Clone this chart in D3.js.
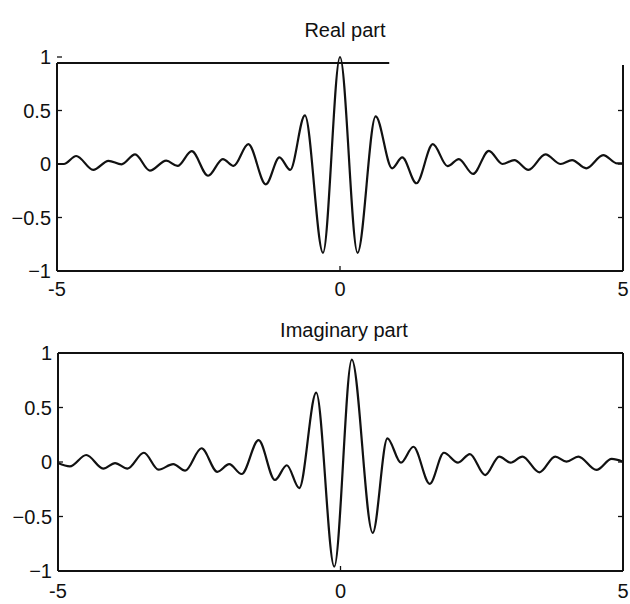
<!DOCTYPE html>
<html>
<head>
<meta charset="utf-8">
<script src="https://cdn.jsdelivr.net/npm/d3@7/dist/d3.min.js"></script>
<style>
  html, body { margin: 0; padding: 0; background: #fff; }
  svg { display: block; }
  text { font-family: "Liberation Sans", Arial, sans-serif; font-size: 20px; fill: #111; }
</style>
</head>
<body>
<svg id="chart" width="630" height="604"></svg>
<script>
// Real part: local extrema of the wavelet, read along t in [-5, 5]
const realT = [-5, -4.88, -4.66, -4.36, -4.09, -3.86, -3.62, -3.36, -3.07, -2.87, -2.62, -2.33, -2.07, -1.88,
  -1.62, -1.31, -1.07, -0.88, -0.62, -0.30, 0, 0.31, 0.63, 0.92, 1.10, 1.35, 1.64, 1.90, 2.10, 2.35,
  2.63, 2.87, 3.08, 3.33, 3.63, 3.90, 4.10, 4.35, 4.65, 4.90, 5];
const realV = [0, 0, 0.075, -0.055, 0.03, -0.003, 0.09, -0.062, 0.031, -0.018, 0.12, -0.11, 0.046, -0.018,
  0.185, -0.19, 0.062, -0.055, 0.455, -0.83, 1.0, -0.83, 0.445, -0.04, 0.062, -0.18, 0.185, -0.02, 0.046, -0.093,
  0.123, 0, 0.037, -0.055, 0.09, 0, 0.037, -0.04, 0.083, 0.005, 0.005];

// Imaginary part: local extrema of the wavelet
const imagT = [-5, -4.79, -4.50, -4.20, -3.99, -3.77, -3.48, -3.22, -2.96, -2.75, -2.46, -2.18, -1.97, -1.75,
  -1.45, -1.16, -0.95, -0.73, -0.43, -0.11, 0.20, 0.57, 0.83, 1.07, 1.29, 1.58, 1.83, 2.08, 2.29, 2.56,
  2.81, 3.01, 3.22, 3.52, 3.80, 4.00, 4.21, 4.53, 4.80, 5];
const imagV = [-0.01, -0.04, 0.064, -0.06, -0.01, -0.06, 0.085, -0.07, -0.02, -0.08, 0.126, -0.09, -0.02, -0.11,
  0.20, -0.165, -0.03, -0.24, 0.636, -0.96, 0.94, -0.65, 0.217, -0.006, 0.14, -0.2, 0.085, -0.006, 0.073, -0.12,
  0.05, -0.006, 0.05, -0.095, 0.05, 0.003, 0.05, -0.073, 0.028, 0.003];

const xTicks = [-5, 0, 5];
const yTicks = [-1, -0.5, 0, 0.5, 1];
const titles = ["Real part", "Imaginary part"];

const svg = d3.select("#chart");

function panel(cfg) {
  const x = d3.scaleLinear().domain([-5, 5]).range([cfg.left, cfg.right]);
  const y = d3.scaleLinear().domain([-1, 1]).range([cfg.bottom, cfg.top]);
  const g = svg.append("g");

  // title
  g.append("text")
    .attr("x", cfg.titleX).attr("y", cfg.titleY)
    .attr("text-anchor", "middle").attr("dominant-baseline", "central")
    .text(cfg.title);

  // frame
  const frame = g.append("g").attr("stroke", "#111").attr("stroke-width", 2).attr("fill", "none");
  frame.append("line").attr("x1", cfg.left).attr("x2", cfg.left).attr("y1", cfg.frameTop).attr("y2", cfg.bottom);
  frame.append("line").attr("x1", cfg.left).attr("x2", cfg.right).attr("y1", cfg.bottom).attr("y2", cfg.bottom);
  frame.append("line").attr("x1", cfg.right).attr("x2", cfg.right).attr("y1", cfg.rightTop).attr("y2", cfg.bottom);
  frame.append("line").attr("x1", cfg.left).attr("x2", x(cfg.topEnd)).attr("y1", cfg.frameTop).attr("y2", cfg.frameTop);

  // inward ticks on left and right borders
  const tl = 5;
  g.append("g").selectAll("line.l").data(yTicks).join("line")
    .attr("x1", cfg.left).attr("x2", cfg.left + tl)
    .attr("y1", d => y(d)).attr("y2", d => y(d))
    .attr("stroke", "#111").attr("stroke-width", 1.3);
  g.append("g").selectAll("line.r").data(yTicks.filter(d => y(d) > cfg.rightTop)).join("line")
    .attr("x1", cfg.right).attr("x2", cfg.right - tl)
    .attr("y1", d => y(d)).attr("y2", d => y(d))
    .attr("stroke", "#111").attr("stroke-width", 1.3);
  g.append("g").selectAll("line.b").data(xTicks).join("line")
    .attr("x1", d => x(d)).attr("x2", d => x(d))
    .attr("y1", cfg.bottom).attr("y2", cfg.bottom - tl)
    .attr("stroke", "#111").attr("stroke-width", 1.3);

  // tick labels
  g.append("g").selectAll("text").data(yTicks).join("text")
    .attr("x", cfg.left - 6).attr("y", d => y(d))
    .attr("text-anchor", "end").attr("dominant-baseline", "central")
    .text(d => d3.format("")(d));
  g.append("g").selectAll("text").data(xTicks).join("text")
    .attr("x", d => x(d)).attr("y", cfg.bottom + cfg.xLabelOffset)
    .attr("text-anchor", "middle").attr("dominant-baseline", "central")
    .text(d => d);

  // curve
  const line = d3.line()
    .x(d => x(d[0])).y(d => y(d[1]))
    .curve(d3.curveMonotoneX);
  g.append("path")
    .datum(cfg.t.map((t, i) => [t, cfg.v[i]]))
    .attr("d", line)
    .attr("fill", "none").attr("stroke", "#111").attr("stroke-width", 2.2)
    .attr("stroke-linejoin", "round");
}

panel({
  title: titles[0], titleX: 345, titleY: 30,
  left: 57, right: 623, top: 57, bottom: 271,
  frameTop: 63, rightTop: 65, topEnd: 0.87,
  xLabelOffset: 18,
  t: realT, v: realV
});

panel({
  title: titles[1], titleX: 344, titleY: 330,
  left: 58, right: 623, top: 353, bottom: 571,
  frameTop: 353, rightTop: 353, topEnd: 5,
  xLabelOffset: 20,
  t: imagT, v: imagV
});
</script>
</body>
</html>
